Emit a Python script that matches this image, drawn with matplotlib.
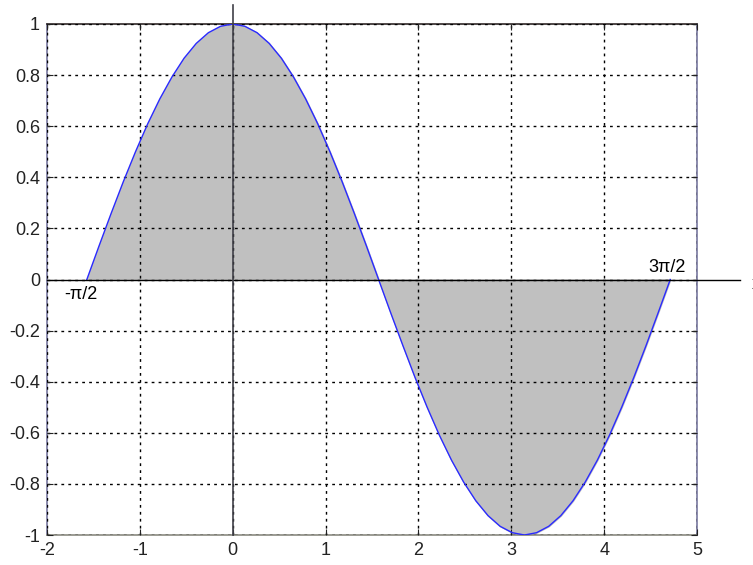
import matplotlib
matplotlib.use("Agg")
import matplotlib.pyplot as plt

x_vals = [-1.571, -1.440, -1.309, -1.178, -1.047, -0.916, -0.785, -0.654, -0.524, -0.393,
          -0.262, -0.131, 0.000, 0.131, 0.262, 0.393, 0.524, 0.654, 0.785, 0.916,
          1.047, 1.178, 1.309, 1.440, 1.571, 1.702, 1.833, 1.963, 2.094, 2.225,
          2.356, 2.487, 2.618, 2.749, 2.880, 3.011, 3.142, 3.272, 3.403, 3.534,
          3.665, 3.796, 3.927, 4.058, 4.189, 4.320, 4.451, 4.581, 4.712]
y_vals = [0.000, 0.131, 0.259, 0.383, 0.500, 0.609, 0.707, 0.793, 0.866, 0.924,
          0.966, 0.991, 1.000, 0.991, 0.966, 0.924, 0.866, 0.793, 0.707, 0.609,
          0.500, 0.383, 0.259, 0.131, 0.000, -0.131, -0.259, -0.383, -0.500, -0.609,
          -0.707, -0.793, -0.866, -0.924, -0.966, -0.991, -1.000, -0.991, -0.966, -0.924,
          -0.866, -0.793, -0.707, -0.609, -0.500, -0.383, -0.259, -0.131, 0.000]
x_ticks = [-2, -1, 0, 1, 2, 3, 4, 5]
y_ticks = [-1, -0.8, -0.6, -0.4, -0.2, 0, 0.2, 0.4, 0.6, 0.8, 1]
y_tick_labels = ["-1", "-0.8", "-0.6", "-0.4", "-0.2", "0", "0.2", "0.4", "0.6", "0.8", "1"]
start_label = "-\u03c0/2"
end_label = "3\u03c0/2"

plt.rcParams['font.family'] = ['Liberation Sans', 'DejaVu Sans']

fig = plt.figure(figsize=(7.53, 5.65), dpi=100)
ax = fig.add_axes([47/753, 30/565, 650/753, 511/565])

ax.fill_between(x_vals, y_vals, 0, color='#c0c0c0', zorder=1)
ax.plot(x_vals, y_vals, color='#2a2aff', lw=1.0, zorder=3)

ax.set_xlim(-2, 5)
ax.set_ylim(-1, 1)
ax.set_xticks(x_ticks)
ax.set_xticklabels([str(t) for t in x_ticks])
ax.set_yticks(y_ticks)
ax.set_yticklabels(y_tick_labels)
ax.tick_params(direction='in', length=4, labelsize=13, pad=5, colors='#222222',
               top=True, right=True)

ax.grid(True, color='black', linestyle=(0, (2, 3)), linewidth=1.0, zorder=2)
ax.set_axisbelow(False)

for side in ['left', 'right']:
    ax.spines[side].set_color('#7878a0')
ax.spines['top'].set_color('#302828')
ax.spines['bottom'].set_color('#8a8a80')
for s in ax.spines.values():
    s.set_linewidth(1.2)

# axes lines through origin
ax.plot([-2, 5.463], [0, 0], color='black', lw=1.0, clip_on=False, zorder=4)
ax.plot([0, 0], [-1, 1.074], color='#404048', lw=1.2, clip_on=False, zorder=4)

ax.text(x_vals[0] - 0.06, -0.025, start_label, ha='center', va='top', fontsize=13, zorder=5)
ax.text(x_vals[-1] - 0.03, 0.012, end_label, ha='center', va='bottom', fontsize=13, zorder=5)
ax.text(5.585, -0.02, "x", ha='left', va='center', fontsize=13, clip_on=False)

fig.savefig("out.png", dpi=100)
